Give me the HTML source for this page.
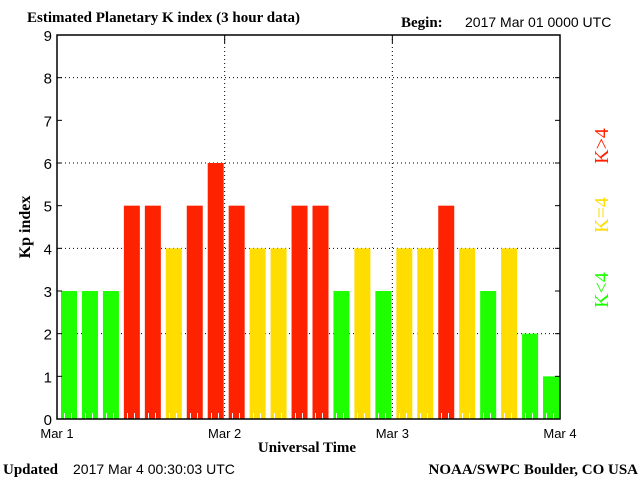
<!DOCTYPE html>
<html><head><meta charset="utf-8"><style>
body{margin:0;background:#fff;width:640px;height:480px;overflow:hidden}
svg text{font-family:"Liberation Serif",serif}
.s{font-family:"Liberation Sans",sans-serif}
</style></head><body>
<svg id="c" width="640" height="480" xmlns="http://www.w3.org/2000/svg">
<text x="27" y="22" font-size="15" font-weight="bold">Estimated Planetary K index (3 hour data)</text>
<text x="401" y="27" font-size="15" font-weight="bold">Begin:</text>
<text class="s" x="465" y="27" font-size="14">2017 Mar 01 0000 UTC</text>
<text x="3" y="474" font-size="15" font-weight="bold">Updated</text>
<text class="s" x="73" y="474" font-size="14">2017 Mar  4 00:30:03 UTC</text>
<text x="638" y="474" font-size="15" font-weight="bold" text-anchor="end">NOAA/SWPC Boulder, CO USA</text>
<text x="307" y="452" font-size="15" font-weight="bold" text-anchor="middle">Universal Time</text>
<text x="0" y="0" font-size="16" font-weight="bold" text-anchor="middle" transform="translate(30,227) rotate(-90)">Kp index</text>
<text x="0" y="0" font-size="20" fill="#ff2200" text-anchor="middle" transform="translate(608,146) rotate(-90)">K&gt;4</text>
<text x="0" y="0" font-size="20" fill="#ffdd00" text-anchor="middle" transform="translate(608,215) rotate(-90)">K=4</text>
<text x="0" y="0" font-size="20" fill="#1eff00" text-anchor="middle" transform="translate(608,290) rotate(-90)">K&lt;4</text>
<g id="plot"></g>
</svg>
<script>
const kpValues=[3,3,3,5,5,4,5,6,5,4,4,5,5,3,4,3,4,4,5,4,3,4,2,1];
const yTicks=[0,1,2,3,4,5,6,7,8,9];
const dayLabels=["Mar 1","Mar 2","Mar 3","Mar 4"];
const L=57,R=560,T=35,B=419;
const NS="http://www.w3.org/2000/svg";
const g=document.getElementById('plot');
const y=v=>B-(v/9)*(B-T);
const slot=(R-L)/kpValues.length;
const x=i=>L+i*slot;
function mk(t,a){const e=document.createElementNS(NS,t);for(const k in a)e.setAttribute(k,a[k]);g.appendChild(e);return e;}
// grid
[2,4,6,8].forEach(v=>{const e=mk('line',{x1:L,x2:R,y1:y(v),y2:y(v),stroke:'#000','stroke-dasharray':'1,3'});

});
[1,2].forEach(d=>{const xx=L+d*(R-L)/3;const e=mk('line',{x1:xx,x2:xx,y1:T,y2:B,stroke:'#000','stroke-dasharray':'1,3'});

});
// bars
kpValues.forEach((v,i)=>{const c=v>4?'#ff2200':v==4?'#ffdd00':'#1eff00';
const r=mk('rect',{x:x(i)+4,y:y(v),width:16,height:B-y(v),fill:c});


for(let h=1;h<3;h++){const tx=Math.round(x(i)+h*slot/3)+0.5;if(tx>x(i)+4&&tx<x(i)+20){const t=mk('line',{x1:tx,x2:tx,y1:B-6,y2:B,stroke:'#fff'});

}}});
// axes frame
const f=mk('rect',{x:L,y:T,width:R-L,height:B-T,fill:'none',stroke:'#000','stroke-width':1.5});


yTicks.forEach(v=>{const t=mk('text',{x:L-5,y:y(v)+6,'font-size':15,'text-anchor':'end',class:'s'});t.textContent=v;


const a=mk('line',{x1:L,x2:L+5,y1:y(v),y2:y(v),stroke:'#000'});


const b=mk('line',{x1:R-5,x2:R,y1:y(v),y2:y(v),stroke:'#000'});

});
dayLabels.forEach((d,i)=>{const xx=L+i*(R-L)/3;const t=mk('text',{x:xx,y:438,'font-size':13,'text-anchor':'middle',class:'s'});t.textContent=d;


const a=mk('line',{x1:xx,x2:xx,y1:T,y2:T+8,stroke:'#000'});

});
</script>
</body></html>
